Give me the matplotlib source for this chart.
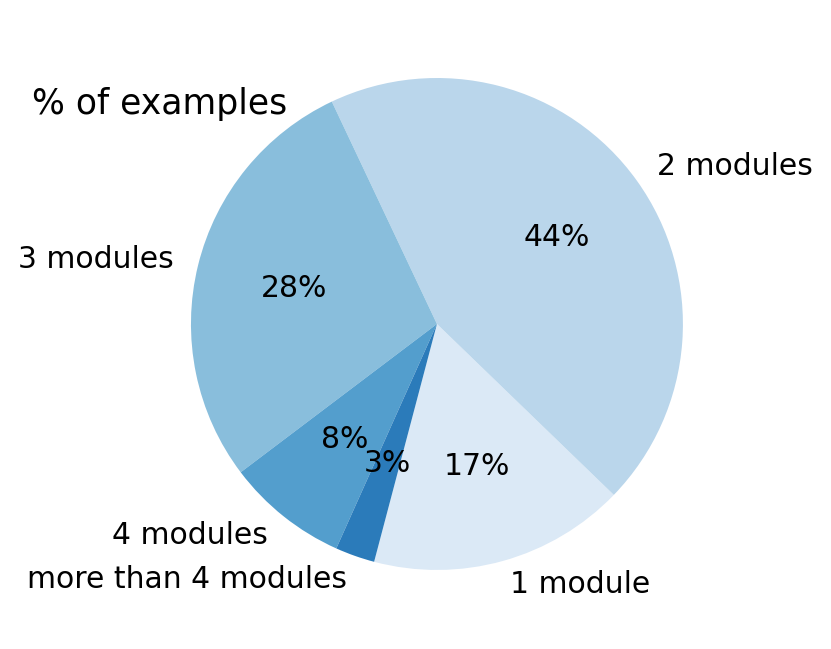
import matplotlib
matplotlib.use("Agg")
import matplotlib.pyplot as plt

categories = ["1 module", "2 modules", "3 modules", "4 modules", "more than 4 modules"]
shares = [16.9, 44.3, 28.3, 8.0, 2.6]
colors = ["#dbe9f6", "#bad6eb", "#89bedc", "#539ecd", "#2b7bba"]

fig = plt.figure(figsize=(8.31, 6.49), dpi=100)
ax = fig.add_axes([0.1558, 0.027, 0.740, 0.9476])

ax.pie(shares, labels=categories, colors=colors, autopct="%1.0f%%",
       startangle=255.2, pctdistance=0.6, labeldistance=1.1,
       textprops={"fontsize": 21.5})
ax.set_aspect("equal")

fig.text(32 / 831, 1 - 104 / 649, "% of examples", fontsize=24.9,
         ha="left", va="center")

fig.savefig("out.png", dpi=100)
